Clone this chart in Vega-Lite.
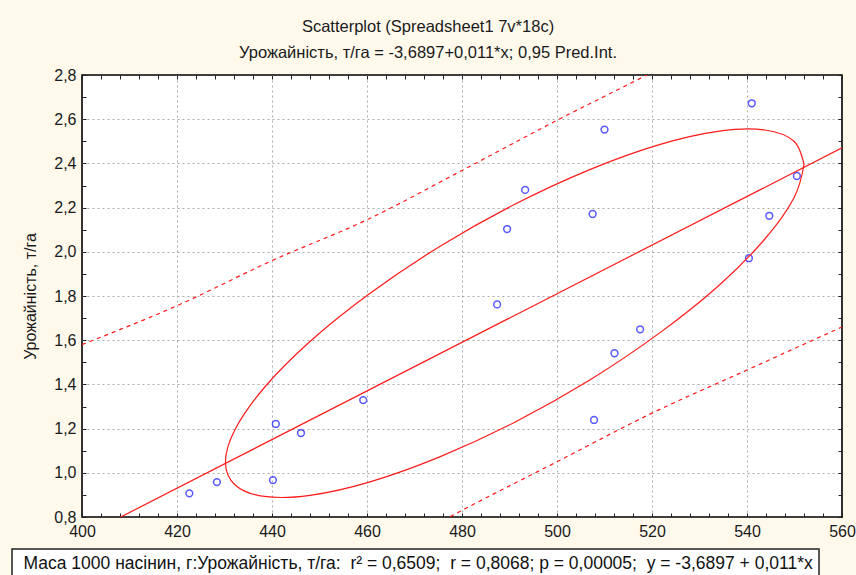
{
  "$schema": "https://vega.github.io/schema/vega-lite/v6.json",
  "autosize": "none",
  "width": 760,
  "height": 442,
  "padding": {"left": 82, "top": 75, "right": 14, "bottom": 58},
  "background": "#FFF9EC",
  "title": {
    "text": ["Scatterplot (Spreadsheet1 7v*18c)", "Урожайність, т/га = -3,6897+0,011*x; 0,95 Pred.Int."],
    "fontSize": 16.5,
    "fontWeight": "normal",
    "font": "Liberation Sans",
    "color": "#1a1a1a",
    "lineHeight": 26,
    "offset": 6,
    "dx": -34,
    "anchor": "middle"
  },
  "config": {
    "view": {"stroke": "#000", "strokeWidth": 1.6, "fill": "#ffffff"},
    "font": "Liberation Sans",
    "legend": {"strokeWidth": 1.5}
  },
  "resolve": {"axis": {"x": "independent", "y": "independent"}},
  "datasets": {
    "points": [
      {"x": 422.6, "y": 0.907}, {"x": 428.4, "y": 0.958}, {"x": 440.2, "y": 0.967},
      {"x": 440.8, "y": 1.221}, {"x": 446.1, "y": 1.18}, {"x": 459.2, "y": 1.329},
      {"x": 487.4, "y": 1.762}, {"x": 489.5, "y": 2.103}, {"x": 493.3, "y": 2.28},
      {"x": 507.5, "y": 2.171}, {"x": 507.8, "y": 1.239}, {"x": 510.0, "y": 2.553},
      {"x": 512.1, "y": 1.541}, {"x": 517.5, "y": 1.649}, {"x": 540.4, "y": 1.971},
      {"x": 541.0, "y": 2.672}, {"x": 544.7, "y": 2.163}, {"x": 550.5, "y": 2.343}
    ],
    "reg": [{"x": 400, "y": 0.7103}, {"x": 560, "y": 2.4703}],
    "upper": [
      {"x": 400, "y": 1.58}, {"x": 420, "y": 1.756}, {"x": 440, "y": 1.96}, {"x": 460, "y": 2.145},
      {"x": 480, "y": 2.368}, {"x": 500, "y": 2.595}, {"x": 520, "y": 2.812}, {"x": 540, "y": 3.04}, {"x": 560, "y": 3.28}
    ],
    "lower": [
      {"x": 400, "y": -0.15}, {"x": 420, "y": 0.1}, {"x": 440, "y": 0.35}, {"x": 460, "y": 0.595},
      {"x": 480, "y": 0.83}, {"x": 500, "y": 1.05}, {"x": 520, "y": 1.27}, {"x": 540, "y": 1.465}, {"x": 560, "y": 1.66}
    ],
    "ellipse": [
      {"o": 0, "x": 552.0, "y": 2.395}, {"o": 1, "x": 549.9, "y": 2.5}, {"o": 2, "x": 543.8, "y": 2.551},
      {"o": 3, "x": 534.2, "y": 2.546}, {"o": 4, "x": 521.55, "y": 2.485}, {"o": 5, "x": 506.9, "y": 2.372},
      {"o": 6, "x": 491.1, "y": 2.215}, {"o": 7, "x": 475.3, "y": 2.024}, {"o": 8, "x": 460.65, "y": 1.812},
      {"o": 9, "x": 448.0, "y": 1.594}, {"o": 10, "x": 438.4, "y": 1.386}, {"o": 11, "x": 432.3, "y": 1.199},
      {"o": 12, "x": 430.2, "y": 1.049}, {"o": 13, "x": 432.3, "y": 0.944}, {"o": 14, "x": 438.4, "y": 0.893},
      {"o": 15, "x": 448.0, "y": 0.898}, {"o": 16, "x": 460.65, "y": 0.959}, {"o": 17, "x": 475.3, "y": 1.072},
      {"o": 18, "x": 491.1, "y": 1.229}, {"o": 19, "x": 506.9, "y": 1.42}, {"o": 20, "x": 521.55, "y": 1.632},
      {"o": 21, "x": 534.2, "y": 1.85}, {"o": 22, "x": 543.8, "y": 2.059}, {"o": 23, "x": 549.9, "y": 2.245},
      {"o": 24, "x": 552.0, "y": 2.395}
    ]
  },
  "layer": [
    {
      "data": {"name": "points"},
      "mark": {"type": "point", "shape": "circle", "filled": false, "size": 46, "strokeWidth": 1.5},
      "encoding": {
        "x": {
          "field": "x", "type": "quantitative",
          "scale": {"domain": [400, 560], "nice": false, "zero": false},
          "axis": {
            "values": [400,404,408,412,416,420,424,428,432,436,440,444,448,452,456,460,464,468,472,476,480,484,488,492,496,500,504,508,512,516,520,524,528,532,536,540,544,548,552,556,560],
            "labelExpr": "datum.value % 20 == 0 ? format(datum.value, 'd') : ''",
            "grid": true,
            "gridColor": {"condition": {"test": "datum.value % 20 == 0 && datum.value > 400 && datum.value < 560", "value": "#ababab"}, "value": "rgba(0,0,0,0)"},
            "gridDash": [2, 3],
            "gridWidth": 1,
            "tickSize": -4,
            "tickColor": "#222",
            "domain": false,
            "labelFontSize": 16,
            "labelColor": "#1a1a1a",
            "labelPadding": 10,
            "labelFlush": false,
            "labelOverlap": false,
            "labelBound": false,
            "title": null
          }
        },
        "y": {
          "field": "y", "type": "quantitative",
          "scale": {"domain": [0.8, 2.8], "nice": false, "zero": false},
          "axis": {
            "values": [0.8,0.9,1.0,1.1,1.2,1.3,1.4,1.5,1.6,1.7,1.8,1.9,2.0,2.1,2.2,2.3,2.4,2.5,2.6,2.7,2.8],
            "labelExpr": "abs(datum.value*5 - round(datum.value*5)) < 0.001 ? replace(format(datum.value, '.1f'), '.', ',') : ''",
            "grid": true,
            "gridColor": {"condition": {"test": "abs(datum.value*5 - round(datum.value*5)) < 0.001 && datum.value > 0.85 && datum.value < 2.75", "value": "#ababab"}, "value": "rgba(0,0,0,0)"},
            "gridDash": [2, 3],
            "gridWidth": 1,
            "tickSize": -4,
            "tickColor": "#222",
            "domain": false,
            "labelFontSize": 16,
            "labelColor": "#1a1a1a",
            "labelPadding": 10,
            "labelOverlap": false,
            "labelFlush": false,
            "labelBound": false,
            "title": "Урожайність, т/га",
            "titleFontSize": 16,
            "titleFontWeight": "normal",
            "titleColor": "#1a1a1a",
            "titlePadding": 15
          }
        },
        "stroke": {
          "datum": "Маса 1000 насінин, г:Урожайність, т/га:\u00a0 r² = 0,6509;\u00a0 r = 0,8068; p = 0,00005;\u00a0 y = -3,6897 + 0,011*x",
          "type": "nominal",
          "scale": {"range": ["#1414ff"]},
          "legend": {
            "orient": "none", "legendX": -70, "legendY": 474, "title": null,
            "strokeColor": "#222", "fillColor": "#ffffff", "padding": 6,
            "symbolSize": 0, "symbolOpacity": 0, "symbolStrokeWidth": 0,
            "labelOffset": -12, "labelFontSize": 17.5, "labelLimit": 2000, "labelColor": "#111"
          }
        }
      }
    },
    {
      "data": {"name": "reg"},
      "mark": {"type": "line", "color": "#ff1a1a", "strokeWidth": 1.2, "clip": true},
      "encoding": {
        "x": {"field": "x", "type": "quantitative", "scale": {"domain": [400, 560], "nice": false, "zero": false},
          "axis": {"orient": "top", "values": [400,404,408,412,416,420,424,428,432,436,440,444,448,452,456,460,464,468,472,476,480,484,488,492,496,500,504,508,512,516,520,524,528,532,536,540,544,548,552,556,560], "labels": false, "grid": false, "domain": false, "tickSize": -4, "tickColor": "#222", "title": null}},
        "y": {"field": "y", "type": "quantitative", "scale": {"domain": [0.8, 2.8], "nice": false, "zero": false},
          "axis": {"orient": "right", "values": [0.8,0.9,1.0,1.1,1.2,1.3,1.4,1.5,1.6,1.7,1.8,1.9,2.0,2.1,2.2,2.3,2.4,2.5,2.6,2.7,2.8], "labels": false, "grid": false, "domain": false, "tickSize": -4, "tickColor": "#222", "title": null}}
      }
    },
    {
      "data": {"name": "upper"},
      "mark": {"type": "line", "color": "#ff1a1a", "strokeWidth": 1.2, "strokeDash": [4, 4], "interpolate": "monotone", "clip": true},
      "encoding": {
        "x": {"field": "x", "type": "quantitative", "scale": {"domain": [400, 560], "nice": false, "zero": false}, "axis": null},
        "y": {"field": "y", "type": "quantitative", "scale": {"domain": [0.8, 2.8], "nice": false, "zero": false}, "axis": null}
      }
    },
    {
      "data": {"name": "lower"},
      "mark": {"type": "line", "color": "#ff1a1a", "strokeWidth": 1.2, "strokeDash": [4, 4], "interpolate": "monotone", "clip": true},
      "encoding": {
        "x": {"field": "x", "type": "quantitative", "scale": {"domain": [400, 560], "nice": false, "zero": false}, "axis": null},
        "y": {"field": "y", "type": "quantitative", "scale": {"domain": [0.8, 2.8], "nice": false, "zero": false}, "axis": null}
      }
    },
    {
      "data": {"name": "ellipse"},
      "mark": {"type": "line", "color": "#ff1a1a", "strokeWidth": 1.2, "interpolate": "cardinal", "clip": true},
      "encoding": {
        "x": {"field": "x", "type": "quantitative", "scale": {"domain": [400, 560], "nice": false, "zero": false}, "axis": null},
        "y": {"field": "y", "type": "quantitative", "scale": {"domain": [0.8, 2.8], "nice": false, "zero": false}, "axis": null},
        "order": {"field": "o", "type": "quantitative"}
      }
    }
  ]
}
